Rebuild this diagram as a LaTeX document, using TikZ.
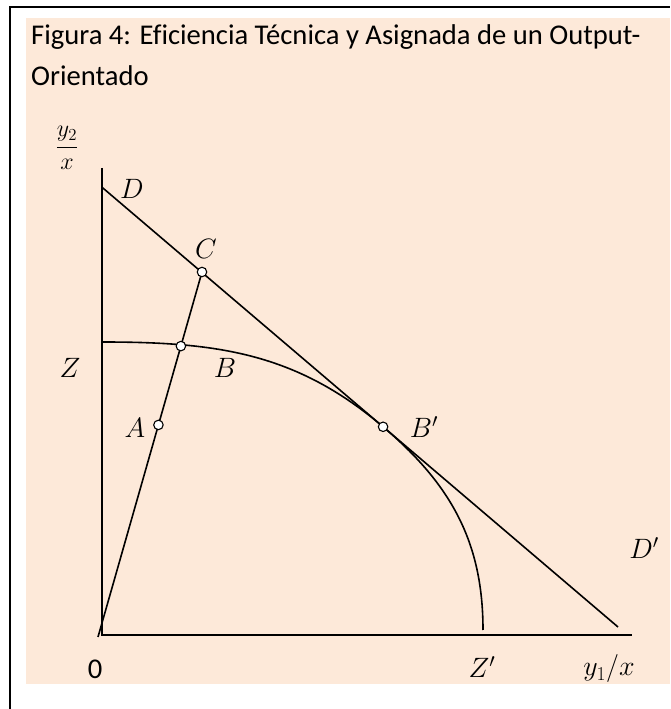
\RequirePackage{fix-cm}
\documentclass[tikz,border=0pt]{standalone}
\usepackage{amsmath}
\usepackage{fontspec}
\setmainfont{Carlito}[Ligatures=NoCommon]
\usetikzlibrary{calc}
\definecolor{peach}{HTML}{FDE9D9}

\begin{document}
\begin{tikzpicture}[x=1pt,y=1pt,
    curveline/.style={line width=1.6pt},
    ptmark/.style={circle,draw,fill=white,line width=1.1pt,inner sep=0pt,minimum size=9.5pt},
    mlabel/.style={inner sep=0pt,font=\fontsize{28}{32}\selectfont},
    ttl/.style={anchor=base west,inner sep=0pt,font=\fontsize{28.6}{41}\selectfont}]
    \useasboundingbox (0,0) rectangle (670,709);
    % frame and background
    \fill[peach] (26,25) rectangle (670,691);
    \draw[line width=2pt] (10,0) -- (10,702) -- (670,702);
    \node[ttl] (title1) at (31,664) {Figura 4: Eficiencia Técnica y Asignada de un Output-};
    \node[ttl] (title2) at (31,623) {Orientado};
    % axes
    \coordinate (O) at (101.7,74);
    \coordinate (yTop) at (101.7,541);
    \coordinate (xEnd) at (632,74);
    \draw[curveline] (yTop) -- (O) -- (xEnd);
    % budget line D D'
    \coordinate (D) at (101.7,522);
    \coordinate (Dp) at (618,82);
    \coordinate (Bp) at ($(D)!0.545!(Dp)$);
    \draw[curveline] (D) -- (Dp);
    % frontier Z Z'
    \coordinate (Z) at (101.7,367);
    \coordinate (Zp) at (483,79);
    \draw[curveline] (Z) to[out=0,in=139.6] (Bp) to[out=-40.4,in=90] (Zp);
    % ray from origin
    \coordinate (rayS) at (98,72);
    \coordinate (C) at (202,437);
    \coordinate (A) at ($(rayS)!0.581!(C)$);
    \coordinate (B) at ($(rayS)!0.797!(C)$);
    \draw[curveline] (rayS) -- (C);
    % points
    \node[ptmark] (ptA) at (A) {};
    \node[ptmark] (ptB) at (B) {};
    \node[ptmark] (ptC) at (C) {};
    \node[ptmark] (ptBp) at (Bp) {};
    % labels
    \node[mlabel] (lyy) at (67,561) {\fontsize{24}{28}\selectfont$\dfrac{y_2}{x}$};
    \node[mlabel] (lD) at (132,520) {$D$};
    \node[mlabel] (lC) at (206,460) {$C$};
    \node[mlabel] (lZ) at (70,341) {$Z$};
    \node[mlabel] (lB) at (225,341) {$B$};
    \node[mlabel] (lA) at (135,281) {$A$};
    \node[mlabel] (lBp) at (424,282) {$B'$};
    \node[mlabel] (lDp) at (644,161) {$D'$};
    \node[inner sep=0pt,font=\fontsize{28.6}{34}\selectfont] (lO) at (95,40) {0};
    \node[mlabel] (lZp) at (482,42) {$Z'$};
    \node[mlabel] (lyx) at (609,40) {$y_1/x$};
\end{tikzpicture}
\end{document}
